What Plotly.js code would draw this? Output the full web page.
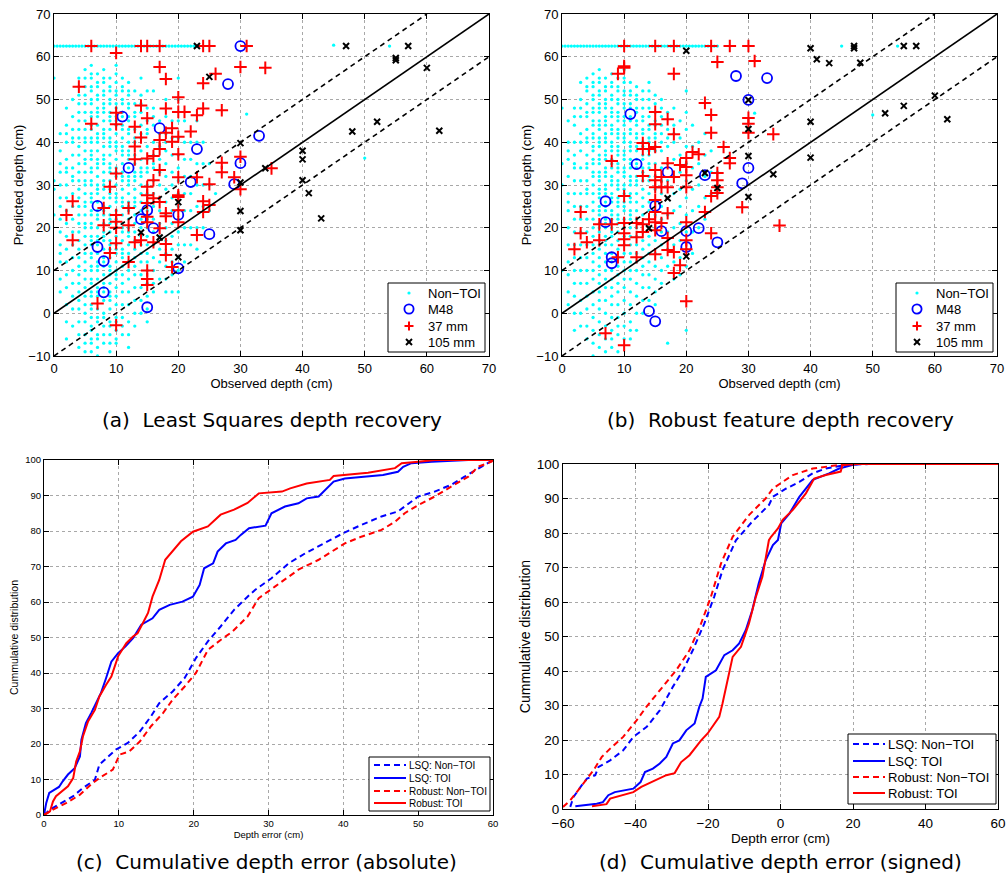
<!DOCTYPE html>
<html><head><meta charset="utf-8">
<script src="https://cdn.plot.ly/plotly-3.0.1.min.js"></script>
<style>html,body{margin:0;padding:0;background:#fff}</style>
</head><body><div id="chart" style="width:1008px;height:886px"></div>
<script>
// ---------------- DATA ----------------
// (a) Least squares: Non-TOI columns [observed depth, predicted depths]
const nonToiA = [
 [0,[62.5,55,31,29,23]],
 [1,[62.5,42,38,35,33,30,27,25,22,19,16,14,12,8,5]],
 [2,[62.5,48,44,42,40,36,34,33,30,27,24,21,18,15,12,9,6,2,-2,-6]],
 [3,[62.5,50,46,43,41,40,37,34,32,31,28,25,22,19,16,13,10,7,4,1,-3]],
 [4,[62.5,55,53,51,49,47,45,43,41,39,37,35,33,31,29,27,25,23,21,19,17,15,13,11,9,7,5,3,1,-2,-5,-8]],
 [5,[62.5,57,55,53,51,49,47,45,43,41,40,38,36,35,33,31,30,28,26,25,23,21,20,18,16,14,12,10,8,6,4,2,0,-2,-5,-7,-9]],
 [6,[62.5,58,56,55,53,52,50,49,47,46,44,43,41,40,38,37,36,34,33,31,30,28,27,26,24,23,21,20,18,17,16,14,13,11,10,8,7,5,4,2,1,-1,-3,-4,-6,-7,-9]],
 [7,[62.5,56,54,53,51,50,48,47,46,44,42,41,40,38,36,35,34,32,30,29,28,26,24,23,22,20,18,17,16,14,12,11,10,8,6,5,4,1,-1,-2,-5,-6,-8,-10]],
 [8,[62.5,57,55,54,52,51,49,48,47,45,43,42,41,39,37,36,35,33,31,30,29,27,25,24,23,21,19,18,17,15,13,12,11,9,7,6,5,3,0,-1,-3,-5,-7]],
 [9,[62.5,55,53,52,50,49,47,46,45,43,41,40,39,37,35,34,33,31,29,28,27,25,23,22,21,19,17,16,15,13,11,10,9,7,5,4,3,1,-2,-3,-5,-7,-9]],
 [10,[62.5,58,56,54,52,51,49,48,46,45,44,42,40,39,38,36,34,33,32,30,28,27,26,24,22,21,20,18,16,15,14,12,10,9,8,6,4,2,-1,-2,-4,-6,-7]],
 [11,[62.5,55,53,52,50,49,47,46,44,43,41,39,38,37,35,33,32,31,29,27,26,25,23,21,20,19,17,15,14,13,11,9,7,5,2,-1,-3,-5]],
 [12,[62.5,54,52,51,49,48,46,45,43,42,40,38,37,36,34,32,31,30,28,26,25,24,22,20,19,18,16,14,12,10,8,5,2,-2,-5,-8]],
 [13,[62.5,52,49,47,46,43,41,40,37,35,33,32,31,29,27,26,25,23,21,19,17,15,13,11,9,6,3,0,-3]],
 [14,[62.5,55,51,49,47,44,42,41,38,36,34,33,32,30,28,26,24,22,20,18,16,14,12,9,6,3,0]],
 [15,[62.5,52,48,45,43,42,39,36,34,33,30,28,26,24,22,20,18,16,14,12,10,7,4,1,-2]],
 [16,[62.5,52,48,46,44,40,37,35,34,31,28,25,22,19,16,13,10,7,5]],
 [17,[62.5,45,42,39,36,33,30,27,24,21,18,15,12,8]],
 [18,[62.5,50,46,42,40,38,35,32,29,26,23,20,17,14,11,8,5]],
 [19,[62.5,45,41,37,33,30,27,24,21,18,15,12,9,5]],
 [20,[62.5,55,50,45,41,37,34,31,28,25,22,19,16,13,10,5]],
 [21,[62.5,45,40,36,32,28,24,20,16,12]],
 [22,[62.5,40,36,32,28,24,20,16]],
 [23,[62.5,45,40,35,30,25,20,15]],
 [24,[40,35,30,25,20]],
 [25,[35,30,24]],
 [26,[28]],
 [31,[46.6]], [45,[62.7]], [50,[36.3]], [54,[62.5]]
];
const capAX = [0.5,1.5,2.5,3.5,4.5,5.5,6.5,7.5,8.5,9.5,10.5,11.5,12.5,13.5,14.5,15.5,16.5,17.5,18.5,19.5,20.5,21.5,22.5];
const capY = 62.5;

const m48AX = [11,17,12,23,22,28,30,30,29,33,7,7,8,8,14,15,16,20,20,25,15];
const m48AY = [46,43.3,34,38.4,30.7,53.6,62.5,35.1,30.2,41.5,25.1,15.5,12.2,4.9,22,24.1,19.9,23,10.5,18.5,1.4];

const mm37AX = [6,10,4,6,10,10,13,14,15,14,13,13,15,16,17,17,18,19,19,18,20,20,21,20,20,22,23,24,24,26,27,27,27,30,30,29,25,23,20,17,16,15,10,9,17,18,14,15,17,24,25,31,34,35,3,2,3,8,8,10,10,10,12,12,10,9,12,13,14,15,16,15,15,15,17,18,18,17,16,18,18,19,15,15,15,20,20,20,20,24,25,24,23,30,7,10];
const mm37AY = [62.5,60.9,53,44.3,46.9,44.2,43.6,48.6,45.6,41.1,39,36,36.2,36.8,38.4,40.5,42.2,43.3,40.1,47.9,50.5,47.1,47.1,41.3,37.2,42.5,46.3,47.9,53.8,56,47.5,35.2,33,57.6,36.6,31.8,30.2,31.8,31.8,33.5,31.1,29.6,32.7,29.6,57.6,54.8,62.5,62.5,62.5,62.5,62.5,62.5,57.4,33.9,26.2,23,17.1,24.6,20.6,23,21.4,20,24.6,20.6,16.4,14.1,12,16.6,17.1,27.6,26.9,25.8,21.3,22.6,26,23.4,22.7,19.9,16.6,16.2,13.6,10.8,10,8,6.6,27.6,27.2,24.1,21.3,26.2,25.3,23.7,18.3,29,2.3,-2.8];

const mm105AX = [23,25,30,30,47,57,55,55,60,52,48,62,40,40,40,41,34,43,30,30,14,17,20,20];
const mm105AY = [62.5,55.3,39.8,30.6,62.5,62.5,59.7,59.2,57.4,44.8,42.5,42.7,38,36,31.1,28.1,33.9,22.2,23.9,19.4,18.9,17.7,13.1,26];

// (b) Robust feature: Non-TOI columns
const nonToiB = [
 [0,[62.5,48,35,30,10]],
 [1,[62.5,45,40,38,36,32,28,26,24,20,16,12,9,5,2]],
 [2,[62.5,48,46,44,40,37,35,34,31,28,25,22,19,16,13,10,7,4,0,-4]],
 [3,[62.5,54,50,48,46,42,40,38,34,31,28,25,22,19,16,13,10,7,3,0,-3]],
 [4,[62.5,55,53,52,49,47,46,43,41,40,37,35,34,31,29,28,25,22,19,16,13,10,7,4,1,-3,-6]],
 [5,[62.5,56,54,53,51,50,48,47,45,44,42,41,39,38,36,35,33,32,30,28,26,24,22,20,18,16,14,12,10,8,5,2,-1,-4,-7,-10]],
 [6,[62.5,57,55,54,52,51,49,48,47,45,44,43,41,40,39,37,36,35,33,32,31,29,28,27,25,24,23,21,20,19,17,16,15,13,11,9,7,5,3,1,-2,-5,-8]],
 [7,[62.5,55,53,52,50,49,48,46,45,44,42,41,40,38,37,36,34,33,32,30,29,28,26,25,24,22,21,20,18,17,16,14,12,10,8,6,3,0,-3,-6,-9]],
 [8,[62.5,56,54,53,51,50,48,47,46,44,43,42,40,39,38,36,35,34,32,31,30,28,27,26,24,23,22,20,19,18,16,14,12,10,8,6,4,2,-1,-4,-6,-8]],
 [9,[62.5,55,53,52,50,49,47,46,45,43,42,41,39,38,37,35,34,33,31,30,29,27,26,25,23,22,21,19,17,15,13,11,9,7,5,2,-1,-3,-5,-9]],
 [10,[62.5,57,55,54,52,51,49,48,46,45,44,42,41,40,38,37,36,34,33,32,30,29,28,26,25,24,22,21,20,18,16,14,12,10,8,6,3,0,-3,-6]],
 [11,[62.5,54,52,51,49,48,46,45,43,42,40,39,38,36,35,34,32,31,30,28,27,26,24,23,22,20,18,16,14,12,10,8,5,2,-2,-4,-6]],
 [12,[62.5,53,51,50,48,47,45,44,42,41,39,38,36,35,34,32,31,30,28,26,24,22,20,18,16,14,12,10,7,4,0,-4]],
 [13,[62.5,52,50,48,46,45,43,42,40,39,37,36,34,33,31,29,27,25,23,21,19,17,15,13,11,9,6,3,0]],
 [14,[62.5,54,52,50,48,46,44,43,41,40,38,37,35,34,32,31,28,26,24,22,20,18,16,14,12,9,6,3]],
 [15,[62.5,51,49,47,45,44,42,41,39,38,35,32,29,26,23,20,17,14,11,8,5,2]],
 [16,[62.5,50,48,46,44,42,40,38,34,31,28,25,22,19,16,13,10,7]],
 [17,[62.5,47,43,41,39,35,31,27,23,19,15,11,-7]],
 [18,[62.5,48,44,42,40,36,32,28,24,20,16,12,8]],
 [19,[62.5,45,41,37,33,29,25,21,17,13,9]],
 [20,[62.5,52,47,43,39,35,31,27,23,19,15,11,-4]],
 [21,[62.5,44,39,34,29,24,19,14]],
 [22,[62.5,40,35,30,25,20]],
 [23,[62.5,42,37,32,27,22]],
 [24,[62.5,38,33,28]],
 [25,[62.5,33,28]],
 [31,[46.8]], [45,[62.5]], [50,[46.4]], [54,[62.5]]
];
const capBX = [0.5,1.5,2.5,3.5,4.5,5.5,6.5,7.5,8.5,9.5,10.5,11.5,12.5,13.5,14.5,15.5,16.5,17.5,18.5,19.5,20.5,21.5,22.5,23.5,24.5];

const m48BX = [11,12,17,28,33,30,30,29,23,7,7,8,8,15,16,20,20,22,25,14,15];
const m48BY = [46.6,34.9,33,55.5,55,49.9,34,30.4,32.3,26.2,21.3,13.1,11.7,25.1,19.2,19.2,15.5,19.9,16.6,0.5,-1.9];

const mm37BX = [10,15,18,24,27,30,10,10,9,25,31,18,23,24,24,15,15,17,18,13,13,14,15,8,13,15,15,16,17,18,19,20,20,20,20,21,22,26,27,27,25,25,25,30,30,30,34,10,10,10,10,10,3,3,4,2,6,6,8,9,12,12,12,13,13,14,15,15,15,15,15,16,17,17,17,18,18,19,20,20,20,20,23,24,24,25,29,7,10,15,16,17,35];
const mm37BY = [62.5,62.5,62.5,62.5,62.5,62.5,57.8,57.4,56,58.8,59,56,49.2,46.4,42.2,47.1,44.2,45.4,41.9,39.8,38.4,38.4,38.9,35.6,32.1,33.5,31.1,31.9,35.1,31.9,34.7,36.3,34.2,32.3,29.5,37.7,37.2,38.9,36.3,35.1,32.8,31.1,29.5,45.7,44.3,42.2,41.9,27.4,21.1,18.7,17.3,15.9,23.7,18.7,16.6,15,20.8,17.1,20.8,13.1,21.1,17.8,13.1,20.8,19,22,26.5,23.7,21.3,19.4,13.8,21.1,23.4,14.8,17.6,14.3,9.4,11.2,21.3,17.1,15,2.8,23.7,18.7,27.4,28.1,24.8,-4.7,-7.5,29.5,29.5,29.5,20.5];

const mm105BX = [20,30,30,30,23,25,40,41,43,47,47,55,57,48,40,52,55,60,62,40,34,14,17,20,30];
const mm105BY = [61.4,49.9,43.1,36.8,32.8,29.3,62,59.4,58.5,62.5,62,62.5,62.5,58.6,44.8,46.8,48.5,50.9,45.4,36.4,32.5,19.9,26.9,13.3,27.2];

// reference lines (observed vs predicted)
const idX = [0,70], idY = [0,70];
const upX = [0,60], upY = [10,70];
const loX = [0,70], loY = [-10,60];

// (c) cumulative absolute depth error
const cLsqNonX = [0,0.8,1.9,3.9,5.2,6.8,7.4,8.3,9.6,11.2,12.8,14.3,15.4,17.2,18.8,20.3,21.9,23.6,25.4,27.2,28.2,30.4,32.7,34.9,37.1,40,42.4,45.1,47.3,48.7,50,52.2,54.4,56.2,58.4,60];
const cLsqNonY = [0,1.5,2.9,5.3,7.6,9.9,14.2,16,18.4,20.3,23.5,27.8,31.5,34.8,38.6,44.2,48.9,53.1,57.8,61.5,63.4,66.7,70.9,73.7,76.1,79.4,81.7,84.1,85.5,87.8,89.7,91.1,93,95.3,98.1,100];
const cLsqToiX = [0,0.3,0.7,1.2,2,2.5,3.2,4.1,4.8,5,5.6,6.3,7,7.6,8.3,9,9.9,10.9,11.9,13,14.5,15.4,16.8,18.5,19.9,20.8,21.4,22.6,23.2,24.3,25.6,26.3,27.4,29.6,30.4,32.2,34,35.1,36.7,37.8,38.7,40.2,45.3,47.3,48,49.1,51.8,56.7,60];
const cLsqToiY = [0,3.4,6.2,6.9,7.9,9.5,11.4,13.2,16.5,21.2,25.9,28.7,31.5,34.3,38.6,43.2,45.6,47.5,49.8,53.6,55.4,57.8,59.2,60.1,61.5,64.8,69.5,70.9,74.2,76.5,77.5,78.9,80.8,81.5,85,86.9,87.8,89.2,89.7,92,93.9,94.8,95.8,96.7,98.1,99.1,99.5,100,100];
const cRobNonX = [0,1.2,3,4.8,6.5,7.4,9.2,10.1,11.4,12.8,14.3,15.9,17.2,18.8,20.3,21.9,23.6,25.2,27.2,28.7,30.9,32.7,34,36.7,38.9,40.2,42.4,45.1,46.9,48.2,50,52.2,54.4,56.7,58,59.8,60];
const cRobNonY = [0,1.5,3.4,5.7,9,10.4,12.8,17,17.9,20.7,25,28.7,32.5,36.2,40,46.5,49.3,51.7,55.9,61.1,64.4,67.2,69.1,71.9,74.7,76.5,78.4,80.3,82.6,85,87.3,89.7,92.5,95.3,98.1,99.5,100];
const cRobToiX = [0,0.8,1.2,1.6,3.2,3.9,4.3,4.8,5.2,5.9,6.8,7.4,8.3,9,9.9,11,11.9,12.5,13.2,13.9,14.5,15.4,16.2,17.4,18.3,19.9,21.9,23.6,25.4,27.2,28.7,31.8,32.9,35.1,36.4,38.2,38.7,43.3,46.9,47.8,50,52.2,60];
const cRobToiY = [0,1,3.8,5.3,8.1,10.4,15.1,17.9,22.1,26.4,29.6,33.4,36.7,39,44.7,48.4,50.3,51.2,54,56.9,61.5,66.2,71.9,74.7,77.1,79.8,81.3,84.6,86,87.9,90.6,91.1,92,93.4,93.9,94.4,95.5,96.4,97.7,99.1,99.5,100,100];

// (d) cumulative signed depth error
const dLsqNonX = [-58,-57.1,-54.8,-53.4,-51.1,-50.2,-47,-43.4,-40.6,-36.9,-33.3,-29.7,-26.9,-24.2,-21,-18.3,-16,-12.3,-7.8,-3.2,-2.1,1.6,5.2,8.9,12.5,18,24.4,60];
const dLsqNonY = [0.6,3.5,6.9,8.8,9.8,12.2,14.1,17,20.9,23.8,28.6,35.4,40.2,46,53.8,61.5,69.2,77.9,83.3,88.1,90.5,92.9,94.8,97.3,98.7,99.7,100,100];
const dLsqToiX = [-56.6,-50.7,-49,-47.5,-45.7,-40.6,-38.6,-37.4,-35.2,-33.3,-31.5,-29.7,-27.9,-26,-23.7,-22.4,-21.5,-20.6,-17.8,-15.5,-13.2,-11.4,-9.6,-7.8,-6,-4.1,-2.1,-0.7,0.2,2.5,5.2,8.9,13.4,16.2,19.8,21.6,60];
const dLsqToiY = [0.8,1.5,2,4,4.9,5.9,7.8,10.7,11.7,13.2,15.1,19,19.9,22.8,24.8,29.6,32,38.3,40.2,44.6,46,48,51.8,57.6,65.4,72.1,76.5,78,82.8,85.7,90.5,95.4,97.3,98.7,99.7,100,100];
const dRobNonX = [-60,-58,-56.2,-53.4,-51.6,-49.3,-47,-43.4,-39.7,-37,-33.3,-28.8,-25.1,-21.9,-19.2,-16.4,-13.2,-8.7,-4.1,-2.1,3.4,8.9,16.2,21.6,60];
const dRobNonY = [0.6,2.5,4.9,8.8,11.2,15.1,17.5,20.9,25.7,29.6,34.4,40.2,46,53.8,61.5,71.2,78.9,85.2,90,92.9,96.8,98.7,99.7,100,100];
const dRobToiX = [-52,-48,-47,-40.6,-38.4,-35.6,-33.3,-31.5,-29.2,-27.4,-25.1,-23.7,-21.9,-20.1,-18.3,-16.9,-16,-14.6,-13.2,-10.9,-8.7,-6.8,-5,-3.2,-2.6,-0.7,0.6,3.4,7,9.3,12.5,16.6,17.1,20.7,60];
const dRobToiY = [0.8,1.4,3,4.9,6.4,7.8,8.8,9.8,10.4,13.6,15.6,17.5,19.9,21.9,24.8,26.7,30.6,37.3,44.1,47,53.8,61.5,67.3,77.9,78.9,81.3,83.8,86.7,91.5,95.8,96.8,97.8,99.7,100,100];

// legend labels
const scatterNames = ['Non\u2212TOI','M48','37 mm','105 mm'];
const cumNames = ['LSQ: Non\u2212TOI','LSQ: TOI','Robust: Non\u2212TOI','Robust: TOI'];

// ---------------- BUILD ----------------
function flat(cols, extraX, extraY){
  const xs=[], ys=[];
  cols.forEach(c => c[1].forEach(v => { xs.push(c[0]); ys.push(v); }));
  extraX.forEach(v => { xs.push(v); ys.push(extraY); });
  return [xs, ys];
}
const [ntAX, ntAY] = flat(nonToiA, capAX, capY);
const [ntBX, ntBY] = flat(nonToiB, capBX, capY);

const BLUE='#0000ff', RED='#ff0000', CYAN='#00ffff', BLACK='#000000';
const FONT='Liberation Sans, Arial, sans-serif';
const W=1008, H=886;
function px2x(p){return p/W;} function px2y(p){return 1-p/H;}

function scatterSet(xa, ya, ntX, ntY, mX, mY, pX, pY, kX, kY){
  return [
    {x:ntX, y:ntY, xaxis:xa, yaxis:ya, mode:'markers', name:scatterNames[0], showlegend:false,
     marker:{color:CYAN, size:3.3, symbol:'circle'}},
    {x:mX, y:mY, xaxis:xa, yaxis:ya, mode:'markers', name:scatterNames[1], showlegend:false,
     marker:{color:BLUE, size:10, symbol:'circle-open', line:{color:BLUE, width:1.8}}},
    {x:pX, y:pY, xaxis:xa, yaxis:ya, mode:'markers', name:scatterNames[2], showlegend:false,
     marker:{color:RED, size:9, symbol:'cross-thin-open', line:{color:RED, width:2}}},
    {x:kX, y:kY, xaxis:xa, yaxis:ya, mode:'markers', name:scatterNames[3], showlegend:false,
     marker:{color:BLACK, size:6, symbol:'x-thin-open', line:{color:BLACK, width:2}}},
    {x:idX, y:idY, xaxis:xa, yaxis:ya, mode:'lines', showlegend:false, line:{color:BLACK, width:1.6}},
    {x:upX, y:upY, xaxis:xa, yaxis:ya, mode:'lines', showlegend:false, line:{color:BLACK, width:1.6, dash:'5px,4px'}},
    {x:loX, y:loY, xaxis:xa, yaxis:ya, mode:'lines', showlegend:false, line:{color:BLACK, width:1.6, dash:'5px,4px'}}
  ];
}
const cumStyles = [{color:BLUE, dash:'6px,4px'},{color:BLUE, dash:'solid'},{color:RED, dash:'6px,4px'},{color:RED, dash:'solid'}];
function cumSet(xa, ya, series){
  return series.map((s,i) => ({x:s[0], y:s[1], xaxis:xa, yaxis:ya, mode:'lines', name:cumNames[i], showlegend:false,
    line:{color:cumStyles[i].color, width:2, dash:cumStyles[i].dash}}));
}

const traces = [].concat(
  scatterSet('x','y', ntAX, ntAY, m48AX, m48AY, mm37AX, mm37AY, mm105AX, mm105AY),
  scatterSet('x2','y2', ntBX, ntBY, m48BX, m48BY, mm37BX, mm37BY, mm105BX, mm105BY),
  cumSet('x3','y3', [[cLsqNonX,cLsqNonY],[cLsqToiX,cLsqToiY],[cRobNonX,cRobNonY],[cRobToiX,cRobToiY]]),
  cumSet('x4','y4', [[dLsqNonX,dLsqNonY],[dLsqToiX,dLsqToiY],[dRobNonX,dRobNonY],[dRobToiX,dRobToiY]])
);

function axis(dom, rng, tick0, dtick, tfs, title, tfsz, standoff, anchor, extra){
  return Object.assign({domain:dom, range:rng, tickmode:'linear', tick0:tick0, dtick:dtick,
    ticks:'inside', ticklen:5, tickwidth:1, tickcolor:'#000',
    showline:true, linecolor:'#000', linewidth:1, mirror:'ticks',
    showgrid:true, gridcolor:'#a8a8a8', griddash:'dot', gridwidth:1, zeroline:false,
    tickfont:{family:FONT, size:tfs, color:'#000'},
    title:{text:title, font:{family:FONT, size:tfsz, color:'#000'}, standoff:standoff},
    anchor:anchor, automargin:false, fixedrange:true}, extra||{});
}
function caption(text, cx, cy){
  return {text:text, x:px2x(cx), y:px2y(cy), xref:'paper', yref:'paper', showarrow:false,
    xanchor:'center', yanchor:'middle', font:{family:'DejaVu Sans, sans-serif', size:20, color:'#000'}};
}

// manual legends (shapes + text)
const shapes = [], annotations = [];
function box(x0,y0,x1,y1){
  shapes.push({type:'rect', xref:'paper', yref:'paper', x0:px2x(x0), x1:px2x(x1), y0:px2y(y1), y1:px2y(y0),
    line:{color:'#000', width:1}, fillcolor:'#fff', layer:'above'});
}
function seg(x0,y0,x1,y1,color,width,dash){
  shapes.push({type:'line', xref:'paper', yref:'paper', x0:px2x(x0), x1:px2x(x1), y0:px2y(y0), y1:px2y(y1),
    line:{color:color, width:width, dash:dash||'solid'}, layer:'above'});
}
function circ(cx,cy,r,color,width,fill){
  shapes.push({type:'circle', xref:'paper', yref:'paper', x0:px2x(cx-r), x1:px2x(cx+r), y0:px2y(cy+r), y1:px2y(cy-r),
    line:{color:color, width:width}, fillcolor:fill||'rgba(0,0,0,0)', layer:'above'});
}
function label(text,x,y,size){
  annotations.push({text:text, x:px2x(x), y:px2y(y), xref:'paper', yref:'paper', showarrow:false,
    xanchor:'left', yanchor:'middle', font:{family:FONT, size:size, color:'#000'}});
}
function scatterLegend(x0,y0,x1,y1,symX,textX,rows){
  box(x0,y0,x1,y1);
  circ(symX,rows[0],1.6,CYAN,0,CYAN);
  circ(symX,rows[1],4.6,BLUE,1.8);
  seg(symX-4.5,rows[2],symX+4.5,rows[2],RED,2); seg(symX,rows[2]-4.5,symX,rows[2]+4.5,RED,2);
  seg(symX-3,rows[3]-3,symX+3,rows[3]+3,BLACK,2); seg(symX-3,rows[3]+3,symX+3,rows[3]-3,BLACK,2);
  scatterNames.forEach((n,i)=>label(n,textX,rows[i],13));
}
function cumLegend(x0,y0,x1,y1,l0,l1,textX,rows,size){
  box(x0,y0,x1,y1);
  cumStyles.forEach((s,i)=>seg(l0,rows[i],l1,rows[i],s.color,2,s.dash==='solid'?'solid':'6px,4px'));
  cumNames.forEach((n,i)=>label(n,textX,rows[i],size));
}
scatterLegend(388,283,485,352,409,426,[293,309,326,342]);
scatterLegend(896,283,993,352,917,934,[293,309,326,342]);
cumLegend(369,757,490,811,374,406,407,[765,778,791,803],10);
cumLegend(848,734,996,804,853,885,886,[744,761,777,793],13);

annotations.push(
  caption('(a)  Least Squares depth recovery', 272, 420),
  caption('(b)  Robust feature depth recovery', 780, 420),
  caption('(c)  Cumulative depth error (absolute)', 266, 862),
  caption('(d)  Cumulative depth error (signed)', 780, 862)
);

const layout = {
  width:W, height:H, margin:{l:0,r:0,t:0,b:0}, paper_bgcolor:'#fff', plot_bgcolor:'#fff',
  showlegend:false,
  xaxis: axis([px2x(54),px2x(489)], [0,70], 0, 10, 13, 'Observed depth (cm)', 13, 3, 'y'),
  yaxis: axis([px2y(356),px2y(14)], [-10,70], -10, 10, 13, 'Predicted depth (cm)', 13, 1, 'x'),
  xaxis2: axis([px2x(562),px2x(997)], [0,70], 0, 10, 13, 'Observed depth (cm)', 13, 3, 'y2'),
  yaxis2: axis([px2y(356),px2y(14)], [-10,70], -10, 10, 13, 'Predicted depth (cm)', 13, 1, 'x2'),
  xaxis3: axis([px2x(44),px2x(493)], [0,60], 0, 10, 9.5, 'Depth error (cm)', 9.5, 2, 'y3'),
  yaxis3: axis([px2y(815),px2y(460)], [0,100], 0, 10, 9.5, 'Cummulative distribution', 10.5, 4, 'x3'),
  xaxis4: axis([px2x(563),px2x(998)], [-60,60], -60, 20, 13.5, 'Depth error (cm)', 13.5, 0, 'y4', {ticklabelstandoff:2}),
  yaxis4: axis([px2y(809),px2y(464)], [0,100], 0, 10, 13.5, 'Cummulative distribution', 14, 2, 'x4'),
  shapes: shapes,
  annotations: annotations
};

Plotly.newPlot('chart', traces, layout, {displayModeBar:false, staticPlot:true});
</script></body></html>
